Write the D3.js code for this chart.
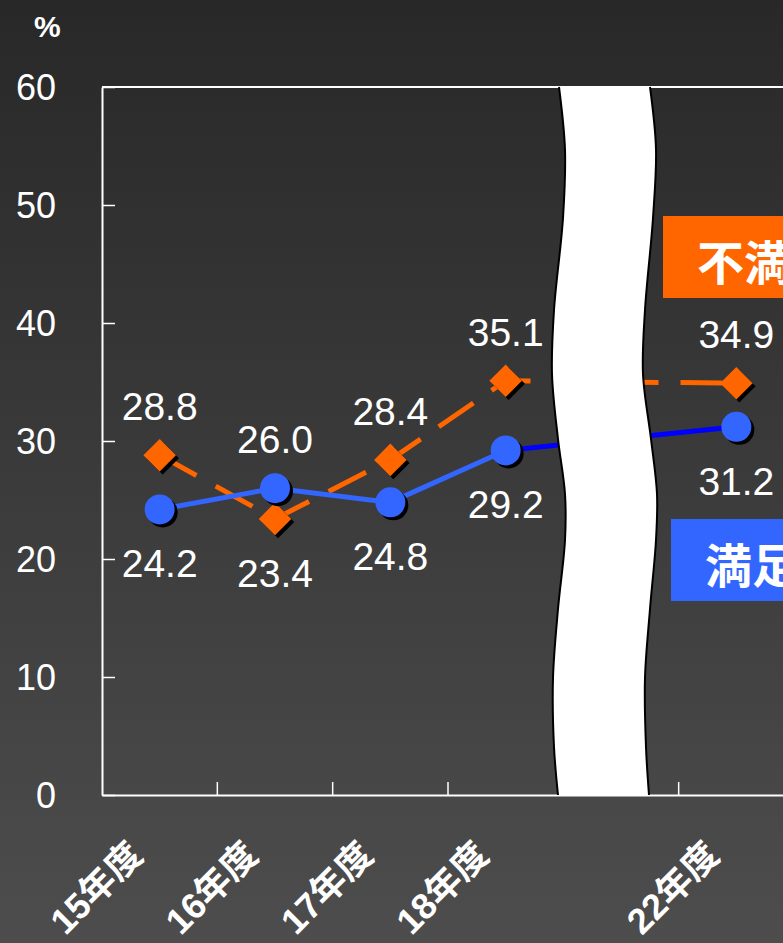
<!DOCTYPE html>
<html><head><meta charset="utf-8">
<script src="https://cdn.jsdelivr.net/npm/d3@7"></script>
<style>html,body{margin:0;padding:0;background:#2a2a2a;overflow:hidden}</style>
</head><body><svg id="c" width="783" height="943"></svg>
<script>
// ---- data ----
const categories = ["15年度","16年度","17年度","18年度","22年度"];
const slots = ["15年度","16年度","17年度","18年度","(中略)","22年度"];
const dissatisfied = [28.8, 23.4, 28.4, 35.1, 34.9];
const satisfied = [24.2, 26.0, 24.8, 29.2, 31.2];
const yTicks = [0, 10, 20, 30, 40, 50, 60];
const seriesNames = ["不満", "満足"];
const unitLabel = "%";

// ---- layout ----
const W = 783, H = 943;
const svg = d3.select("#c");
const FONT = "'Liberation Sans','Noto Sans CJK JP',Arial,sans-serif";
const ORANGE = "#ff6600", BLUE = "#3366ff", DEEPBLUE = "#0000ff";

const defs = svg.append("defs");
const grad = defs.append("linearGradient").attr("id","bg").attr("x1",0).attr("y1",0).attr("x2",0).attr("y2",1);
grad.append("stop").attr("offset","0%").attr("stop-color","#282828");
grad.append("stop").attr("offset","100%").attr("stop-color","#4d4d4d");
svg.append("rect").attr("width",W).attr("height",H).attr("fill","url(#bg)");

const x = d3.scaleBand().domain(slots).range([102, 794]).padding(0);
const cx = c => x(c) + x.bandwidth()/2;
const y = d3.scaleLinear().domain([0, 60]).range([795, 87]);

// y axis
const yAxis = svg.append("g").attr("transform","translate(102,0)")
  .call(d3.axisLeft(y).tickValues(yTicks).tickSize(-13).tickSizeOuter(0).tickPadding(46));
yAxis.select(".domain").attr("stroke","#fff").attr("stroke-width",2);
yAxis.selectAll(".tick line").attr("stroke","#fff").attr("stroke-width",1.5);
yAxis.selectAll(".tick text").attr("fill","#fff").attr("font-family",FONT).attr("font-size",36).attr("dy","0.36em");

// x axis
const xAxis = svg.append("g").attr("transform","translate(0,795)")
  .call(d3.axisBottom(x).tickSize(0).tickFormat(""));
xAxis.select(".domain").attr("stroke","#fff").attr("stroke-width",2);
// ticks on band boundaries (pointing inward)
svg.append("g").selectAll("line").data(slots.slice(1).concat(["__end"]))
  .join("line")
  .attr("x1", d => d === "__end" ? x.range()[1] : x(d))
  .attr("x2", d => d === "__end" ? x.range()[1] : x(d))
  .attr("y1", 795).attr("y2", 782)
  .attr("stroke","#fff").attr("stroke-width",1.5);
// top frame
svg.append("line").attr("x1",102).attr("x2",x.range()[1]).attr("y1",y(60)).attr("y2",y(60))
  .attr("stroke","#fff").attr("stroke-width",2);

// x labels
svg.append("g").selectAll("text").data(categories).join("text")
  .attr("transform", d => `translate(${cx(d)-15},857) rotate(-45)`)
  .attr("text-anchor","end").attr("fill","#fff").attr("font-family",FONT)
  .attr("font-weight","bold").attr("font-size",36).text(d => d);

// unit
svg.append("text").attr("x",34).attr("y",37).attr("fill","#fff").attr("font-family",FONT)
  .attr("font-weight","bold").attr("font-size",30).text(unitLabel);

// ---- lines ----
const pts = vals => categories.map((c,i) => [cx(c), y(vals[i])]);
const dPts = pts(dissatisfied), sPts = pts(satisfied);
const line = d3.line();

svg.append("path").attr("d", line(dPts)).attr("fill","none").attr("stroke",ORANGE)
  .attr("stroke-width",5).attr("stroke-dasharray","42,22");
svg.append("path").attr("d", line(sPts.slice(0,4))).attr("fill","none").attr("stroke",BLUE)
  .attr("stroke-width",5);
svg.append("path").attr("d", line(sPts.slice(3))).attr("fill","none").attr("stroke",DEEPBLUE)
  .attr("stroke-width",5);

// ---- markers ----
const sq = d3.symbol().type(d3.symbolSquare).size(23*23);
function drawMarkers(idx, layer) {
  idx.forEach(i => {
    const [px,py] = dPts[i];
    layer.append("path").attr("d", sq()).attr("transform",`translate(${px+3},${py+3}) rotate(45)`).attr("fill","#000");
    layer.append("path").attr("d", sq()).attr("transform",`translate(${px},${py}) rotate(45)`).attr("fill",ORANGE);
    const [qx,qy] = sPts[i];
    layer.append("circle").attr("cx",qx+3).attr("cy",qy+3).attr("r",15).attr("fill","#000");
    layer.append("circle").attr("cx",qx).attr("cy",qy).attr("r",15).attr("fill",BLUE);
  });
}

// ---- axis break (wavy white band) ----
const leftEdge = [[559,87],[565,150],[563,218],[554,310],[552,374],[558,439],[565,494],[565,540],[558,609],[553,678],[554,747],[558,795]];
const rightEdge = [[650,87],[656,149],[653,218],[645,310],[643,374],[651,439],[657,494],[656,540],[650,609],[645,678],[646,747],[649,795]];
const cl = d3.line().curve(d3.curveCatmullRom);
const brk = svg.append("g");
brk.append("path")
  .attr("d", cl(leftEdge) + "L" + cl(rightEdge.slice().reverse()).slice(1) + "Z")
  .attr("fill","#fff");
brk.append("path").attr("d", cl(leftEdge)).attr("fill","none").attr("stroke","#000").attr("stroke-width",2);
brk.append("path").attr("d", cl(rightEdge)).attr("fill","none").attr("stroke","#000").attr("stroke-width",2);

drawMarkers(d3.range(categories.length), svg.append("g"));

// ---- value labels ----
const lab = svg.append("g").attr("fill","#fff").attr("font-family",FONT).attr("font-size",39).attr("text-anchor","middle");
categories.forEach((c,i) => {
  const dAbove = dissatisfied[i] >= satisfied[i];
  lab.append("text").attr("x", dPts[i][0]).attr("y", dPts[i][1] + (dAbove ? -35 : 68)).text(dissatisfied[i].toFixed(1));
  lab.append("text").attr("x", sPts[i][0]).attr("y", sPts[i][1] + (dAbove ? 68 : -35)).text(satisfied[i].toFixed(1));
});

// ---- legend boxes ----
const leg = [
  {name: seriesNames[0], color: ORANGE, bx: 663, by: 216, tx: 697, ty: 280},
  {name: seriesNames[1], color: BLUE, bx: 671, by: 519, tx: 705, ty: 583}
];
leg.forEach(l => {
  svg.append("rect").attr("x",l.bx).attr("y",l.by).attr("width",200).attr("height",82).attr("fill",l.color);
  svg.append("text").attr("x",l.tx).attr("y",l.ty).attr("fill","#fff").attr("font-family",FONT)
    .attr("font-weight","bold").attr("font-size",47).text(l.name);
});
</script>
</body></html>
